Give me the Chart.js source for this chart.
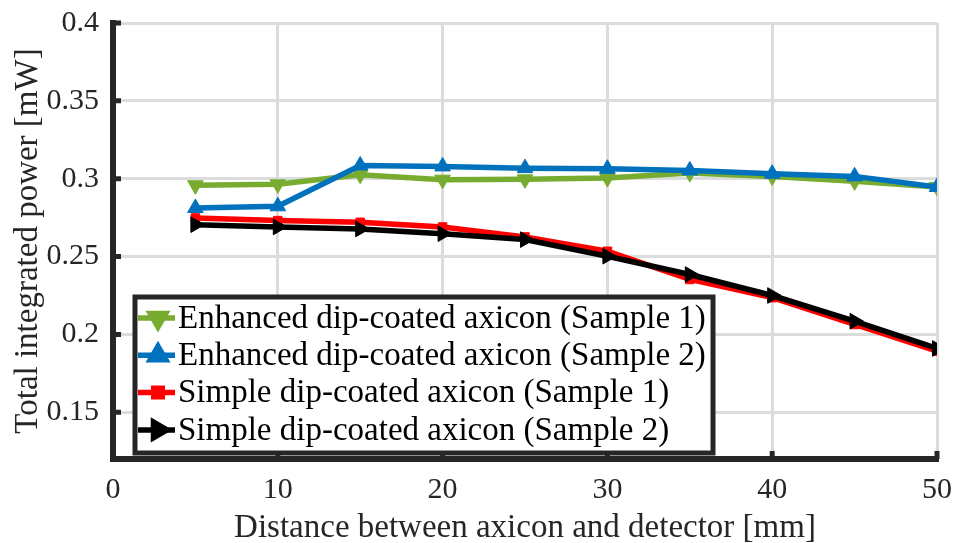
<!DOCTYPE html>
<html>
<head>
<meta charset="utf-8">
<script src="https://cdn.jsdelivr.net/npm/chart.js@4/dist/chart.umd.min.js"></script>
<style>
  html, body { margin: 0; padding: 0; background: #fff; }
  #wrap { width: 955px; height: 543px; }
</style>
</head>
<body>
<div id="wrap"><canvas id="chart" width="955" height="543"></canvas></div>
<script>
// distance between axicon and detector [mm]
var distances = [5, 10, 15, 20, 25, 30, 35, 40, 45, 50];
// total integrated power [mW]
var enhancedS1 = [0.2958, 0.2964, 0.3026, 0.2994, 0.2996, 0.3004, 0.3036, 0.3015, 0.2983, 0.2947];
var enhancedS2 = [0.2812, 0.2823, 0.3085, 0.3079, 0.3068, 0.3064, 0.3053, 0.3032, 0.3015, 0.2947];
var simpleS1 = [0.2748, 0.2731, 0.2720, 0.2690, 0.2626, 0.2534, 0.2353, 0.2236, 0.2064, 0.1893];
var simpleS2 = [0.2705, 0.2690, 0.2677, 0.2647, 0.2609, 0.2502, 0.2385, 0.2250, 0.2085, 0.1910];
var xTicks = [0, 10, 20, 30, 40, 50];
var yTicks = [0.15, 0.2, 0.25, 0.3, 0.35, 0.4];

var serif = '"Liberation Serif", "Times New Roman", serif';
var axisColor = '#262626';

function points(values) {
    return values.map(function (v, i) {
        return { x: distances[i], y: v };
    });
}

function series(label, values, color, style, rotation, radius, order) {
    return {
        label: label,
        data: points(values),
        borderColor: color,
        backgroundColor: color,
        borderWidth: 5.5,
        pointStyle: style,
        pointRotation: rotation,
        pointRadius: radius,
        pointBackgroundColor: color,
        pointBorderColor: color,
        pointBorderWidth: 1,
        tension: 0,
        order: order
    };
}

// tick marks pointing into the plot, like the original axes
var innerTicks = {
    id: 'innerTicks',
    beforeDatasetsDraw: function (chart) {
        var ctx = chart.ctx, area = chart.chartArea;
        var xs = chart.scales.x, ys = chart.scales.y;
        ctx.save();
        ctx.strokeStyle = axisColor;
        ctx.lineWidth = 5;
        ctx.beginPath();
        xTicks.forEach(function (t) {
            var px = xs.getPixelForValue(t);
            ctx.moveTo(px, area.bottom);
            ctx.lineTo(px, area.bottom - 8);
        });
        yTicks.forEach(function (t) {
            var py = ys.getPixelForValue(t);
            ctx.moveTo(area.left, py);
            ctx.lineTo(area.left + 8, py);
        });
        ctx.stroke();
        ctx.restore();
    }
};

// boxed legend in the lower left corner of the plot
var legendBox = {
    id: 'legendBox',
    afterDraw: function (chart) {
        var ctx = chart.ctx, area = chart.chartArea;
        var sets = chart.data.datasets;
        var rowH = 37.3;
        var left = area.left + 22, width = 578;
        var bottom = area.bottom - 6;
        var top = bottom - 156;
        ctx.save();
        ctx.fillStyle = '#fff';
        ctx.fillRect(left, top, width, bottom - top);
        ctx.lineWidth = 5;
        ctx.strokeStyle = axisColor;
        ctx.strokeRect(left, top, width, bottom - top);
        ctx.font = '33px ' + serif;
        ctx.textBaseline = 'middle';
        sets.forEach(function (ds, i) {
            var y = top + 21 + rowH * i;
            ctx.strokeStyle = ds.borderColor;
            ctx.lineWidth = ds.borderWidth;
            ctx.beginPath();
            ctx.moveTo(left + 3, y);
            ctx.lineTo(left + 40, y);
            ctx.stroke();
            ctx.fillStyle = ds.pointBackgroundColor;
            ctx.strokeStyle = ds.pointBorderColor;
            Chart.helpers.drawPoint(ctx, {
                pointStyle: ds.pointStyle,
                rotation: ds.pointRotation,
                radius: ds.pointRadius,
                borderWidth: 1
            }, left + 23, y);
            ctx.fillStyle = '#000';
            ctx.fillText(ds.label, left + 43, y + 1);
        });
        ctx.restore();
    }
};

new Chart(document.getElementById('chart'), {
    type: 'line',
    data: {
        datasets: [
            series('Enhanced dip-coated axicon (Sample 1)', enhancedS1, '#77AC30', 'triangle', 180, 9, 3),
            series('Enhanced dip-coated axicon (Sample 2)', enhancedS2, '#0072BD', 'triangle', 0, 9, 2),
            series('Simple dip-coated axicon (Sample 1)', simpleS1, '#FF0000', 'rect', 0, 6, 1),
            series('Simple dip-coated axicon (Sample 2)', simpleS2, '#000000', 'triangle', 90, 9, 0)
        ]
    },
    options: {
        responsive: false,
        animation: false,
        devicePixelRatio: 1,
        layout: {
            padding: { top: 23, right: 18, left: 0, bottom: 0 }
        },
        plugins: {
            legend: { display: false },
            tooltip: { enabled: false }
        },
        scales: {
            x: {
                type: 'linear',
                min: 0,
                max: 50,
                afterBuildTicks: function (scale) {
                    scale.ticks = xTicks.map(function (v) { return { value: v }; });
                },
                afterFit: function (scale) {
                    scale.height = 84;
                    scale.paddingLeft = 0;
                    scale.paddingRight = 0;
                },
                grid: { color: '#dcdcdc', lineWidth: 3, drawTicks: false },
                border: { display: true, color: axisColor, width: 6 },
                ticks: {
                    color: axisColor,
                    padding: 13,
                    maxRotation: 0,
                    font: { family: serif, size: 30 }
                },
                title: {
                    display: true,
                    text: 'Distance between axicon and detector [mm]',
                    color: axisColor,
                    padding: { top: 0, bottom: 0 },
                    font: { family: serif, size: 33, lineHeight: 0.9 }
                }
            },
            y: {
                min: 0.12,
                max: 0.4,
                afterBuildTicks: function (scale) {
                    scale.ticks = yTicks.map(function (v) { return { value: v }; });
                },
                afterFit: function (scale) {
                    scale.width = 113;
                    scale.paddingTop = 0;
                    scale.paddingBottom = 0;
                },
                grid: { color: '#dcdcdc', lineWidth: 3, drawTicks: false },
                border: { display: true, color: axisColor, width: 6 },
                ticks: {
                    color: axisColor,
                    padding: 14,
                    font: { family: serif, size: 30 },
                    callback: function (v) { return String(v); }
                },
                title: {
                    display: true,
                    text: 'Total integrated power [mW]',
                    color: axisColor,
                    padding: { top: 12, bottom: 0 },
                    font: { family: serif, size: 33, lineHeight: 1.0 }
                }
            }
        }
    },
    plugins: [innerTicks, legendBox]
});
</script>
</body>
</html>
